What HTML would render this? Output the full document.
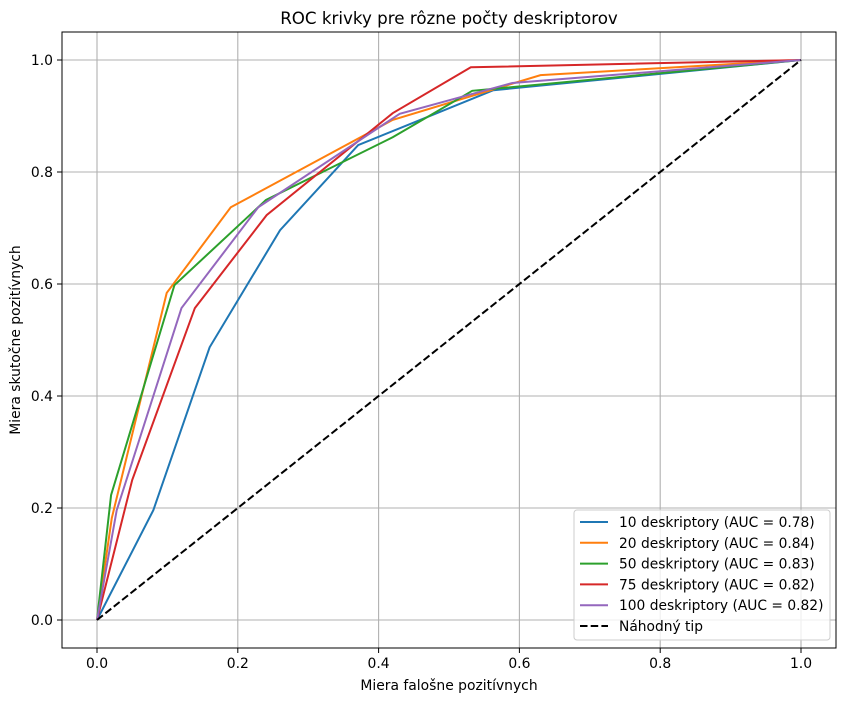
<!DOCTYPE html>
<html><head><meta charset="utf-8"><style>
body{margin:0;background:#fff;font-family:"Liberation Sans","DejaVu Sans",sans-serif;}
svg text{font-family:"DejaVu Sans","Liberation Sans",sans-serif;}
</style></head><body>
<svg id="chart" width="846" height="702" xmlns="http://www.w3.org/2000/svg">
<rect width="846" height="702" fill="#fff"/>
<g id="grid"></g><g id="series"></g><g id="ticks"></g>
<rect x="62" y="32" width="774" height="616" fill="none" stroke="#000" stroke-width="1"/>
<text x="449" y="24" text-anchor="middle" font-size="16.7">ROC krivky pre rôzne počty deskriptorov</text>
<text x="449" y="690" text-anchor="middle" font-size="13.9">Miera falošne pozitívnych</text>
<text transform="translate(20,340) rotate(-90)" text-anchor="middle" font-size="13.9">Miera skutočne pozitívnych</text>
<g id="legend"></g>
</svg>
<script>
const seriesNames=["10 deskriptory (AUC = 0.78)","20 deskriptory (AUC = 0.84)","50 deskriptory (AUC = 0.83)","75 deskriptory (AUC = 0.82)","100 deskriptory (AUC = 0.82)"];
const colors=["#1f77b4","#ff7f0e","#2ca02c","#d62728","#9467bd"];
const fpr10=[0,0.08,0.16,0.26,0.371,0.563,1];
const tpr10=[0,0.196,0.487,0.696,0.848,0.946,1];
const fpr20=[0,0.021,0.099,0.19,0.42,0.63,1];
const tpr20=[0,0.182,0.584,0.737,0.893,0.973,1];
const fpr50=[0,0.02,0.11,0.24,0.42,0.533,1];
const tpr50=[0,0.223,0.598,0.75,0.862,0.945,1];
const fpr75=[0,0.05,0.139,0.241,0.42,0.531,1];
const tpr75=[0,0.25,0.557,0.723,0.905,0.987,1];
const fpr100=[0,0.028,0.12,0.229,0.43,0.59,1];
const tpr100=[0,0.196,0.557,0.737,0.904,0.959,1];
const ticks=[0,0.2,0.4,0.6,0.8,1.0];
const tickLabels=["0.0","0.2","0.4","0.6","0.8","1.0"];
const xs=v=>97+704*v, ys=v=>620-560*v;
const NS="http://www.w3.org/2000/svg";
function mk(t,a,p){const e=document.createElementNS(NS,t);for(const k in a)e.setAttribute(k,a[k]);p.appendChild(e);return e;}
const grid=document.getElementById('grid'),tk=document.getElementById('ticks'),ser=document.getElementById('series');
ticks.forEach((t,i)=>{
 let g=mk('line',{x1:xs(t),x2:xs(t),y1:32,y2:648,stroke:'#b0b0b0','stroke-width':1.1},grid);
 
 
 g=mk('line',{x1:62,x2:836,y1:ys(t),y2:ys(t),stroke:'#b0b0b0','stroke-width':1.1},grid);
 
 
 mk('line',{x1:xs(t),x2:xs(t),y1:648,y2:653,stroke:'#000'},tk);
 mk('line',{x1:57,x2:62,y1:ys(t),y2:ys(t),stroke:'#000'},tk);
 let tx=mk('text',{x:xs(t),y:668,'text-anchor':'middle','font-size':13.9},tk);tx.textContent=tickLabels[i];
 
 
 tx=mk('text',{x:53,y:ys(t)+5,'text-anchor':'end','font-size':13.9},tk);tx.textContent=tickLabels[i];
 
 
});
const F=[fpr10,fpr20,fpr50,fpr75,fpr100],T=[tpr10,tpr20,tpr50,tpr75,tpr100];
F.forEach((f,s)=>{
 const p=mk('polyline',{points:f.map((x,i)=>xs(x)+','+ys(T[s][i])).join(' '),fill:'none',stroke:colors[s],'stroke-width':2},ser);
 
 
});
const d=mk('line',{x1:xs(0),y1:ys(0),x2:xs(1),y2:ys(1),stroke:'#000','stroke-width':2,'stroke-dasharray':'7.5,3.2'},ser);


const lg=document.getElementById('legend');
mk('rect',{x:574,y:510,width:256,height:130,rx:3,fill:'#fff','fill-opacity':0.8,stroke:'#ccc'},lg);
const names=seriesNames.concat(["Náhodný tip"]);
names.forEach((n,i)=>{
 const y=522+20.8*i;
 const l=mk('line',{x1:580,x2:608,y1:y,y2:y,stroke:i<5?colors[i]:'#000','stroke-width':2},lg);
 if(i==5)l.setAttribute('stroke-dasharray','7.5,3.2');
 const t=mk('text',{x:619,y:y+5,'font-size':13.8},lg);t.textContent=n;
 
 
});
</script>
</body></html>
